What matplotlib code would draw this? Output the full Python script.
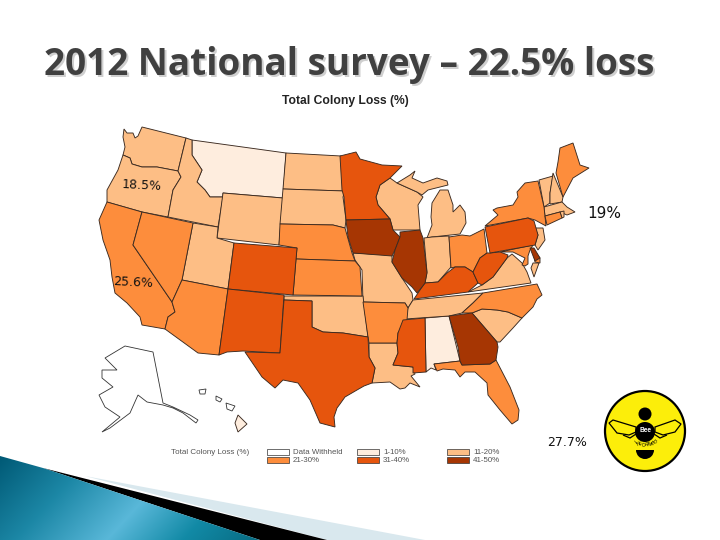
'''
2012 national survey slide: colony loss map of the US
'''
import numpy as np
import matplotlib
matplotlib.use("Agg")
import matplotlib.pyplot as plt
from matplotlib.patches import Polygon, Circle, Rectangle, Wedge
from matplotlib.transforms import Affine2D

# state outlines
WA = [(124,129),(127,133),(133,133),(135,138),(138,136),(142,127),(186,138),(178,171),(157,167),(142,167),(132,164),(130,158),(123,155),(125,147),(123,137)]
OR = [(123,155),(130,158),(132,164),(142,167),(157,167),(178,171),(181,177),(173,190),(168,217),(142,212),(107,202),(107,190),(118,170)]
ID = [(186,138),(192,140),(192,155),(202,170),(197,182),(205,190),(210,197),(223,197),(218,227),(168,217),(173,190),(181,177),(178,171)]
MT = [(192,140),(286,153),(283,198),(223,193),(223,197),(210,197),(205,190),(197,182),(202,170),(192,155)]
WY = [(223,193),(283,198),(279,245),(217,238)]
CA = [(107,202),(142,212),(133,245),(172,302),(175,312),(168,317),(165,329),(142,325),(140,317),(127,303),(115,293),(112,277),(110,260),(103,240),(99,220)]
NV = [(142,212),(193,223),(182,280),(172,302),(133,245)]
UT = [(193,223),(218,227),(217,238),(234,243),(228,289),(182,280)]
AZ = [(182,280),(228,289),(219,355),(198,353),(165,329),(168,317),(175,312),(172,302)]
CO = [(234,243),(297,248),(293,295),(228,289)]
NM = [(228,289),(284,295),(280,353),(243,351),(227,352),(219,355)]
TX = [(284,300),(312,301),(312,327),(323,332),(343,333),(368,337),(369,357),(375,368),(372,383),(364,386),(357,390),(345,397),(340,404),(337,408),(334,417),(335,427),(320,423),(310,400),(298,383),(283,380),(275,388),(262,377),(245,352),(280,353)]
OK = [(284,296),(363,296),(368,337),(343,333),(323,332),(312,327),(312,301),(284,300)]
KS = [(296,259),(355,261),(360,267),(362,296),(293,295)]
NE = [(280,224),(333,225),(345,228),(352,253),(355,261),(296,259),(297,248),(279,245)]
SD = [(283,189),(345,191),(343,197),(346,220),(345,228),(333,225),(280,224)]
ND = [(286,153),(341,156),(345,191),(283,189)]
MN = [(340,156),(356,152),(360,159),(382,165),(402,166),(390,178),(380,185),(376,197),(378,205),(390,219),(346,220),(344,197),(342,190)]
IA = [(346,220),(390,219),(393,230),(400,237),(395,250),(392,256),(353,253),(348,237)]
MO = [(353,253),(392,255),(392,262),(402,278),(412,293),(413,300),(408,308),(405,303),(363,302),(362,270),(355,260)]
AR = [(363,302),(405,303),(408,308),(407,320),(398,333),(397,343),(369,343),(368,337)]
LA = [(369,343),(397,343),(398,353),(393,365),(413,367),(415,374),(411,376),(420,387),(410,383),(405,388),(400,389),(390,382),(372,383),(375,368),(369,357)]
MS = [(403,320),(425,318),(426,372),(413,373),(413,367),(393,365),(398,353),(397,343),(398,333)]
AL = [(425,318),(449,316),(460,361),(434,364),(436,370),(431,368),(426,372)]
GA = [(449,316),(472,313),(497,342),(498,347),(496,360),(490,364),(462,365),(460,361),(458,347)]
FL = [(434,364),(460,361),(462,365),(490,364),(496,360),(510,387),(519,410),(518,420),(512,424),(500,410),(488,395),(487,383),(475,372),(465,372),(460,377),(455,370),(443,369),(437,371)]
SC = [(472,313),(482,309),(497,310),(508,312),(522,318),(513,328),(500,342),(497,342)]
NC = [(483,293),(537,284),(542,295),(537,299),(533,307),(522,318),(508,312),(497,310),(482,309),(472,313),(462,313),(473,303)]
TN = [(413,300),(483,293),(473,303),(462,313),(449,316),(405,319),(408,308)]
KY = [(414,299),(422,287),(425,283),(438,282),(447,273),(455,267),(465,267),(473,272),(478,283),(468,292)]
VA = [(468,292),(482,285),(493,277),(507,258),(512,254),(522,263),(527,272),(531,283)]
WV = [(473,272),(480,258),(487,253),(490,253),(500,252),(508,255),(507,258),(493,277),(482,285),(478,283)]
OH = [(449,237),(462,235),(470,236),(484,229),(487,253),(480,258),(473,272),(465,267),(455,267),(451,268)]
IN = [(424,238),(432,237),(449,236),(451,267),(438,282),(425,283),(427,272)]
IL = [(400,232),(420,230),(423,238),(427,273),(425,283),(422,287),(417,293),(412,287),(402,278),(392,262),(395,250),(400,237)]
WI = [(390,178),(397,183),(417,192),(423,197),(418,205),(420,230),(393,230),(390,219),(378,205),(376,197),(380,185)]
MI_UP = [(397,183),(410,175),(415,171),(412,178),(423,183),(437,178),(447,181),(448,185),(440,187),(428,190),(422,195),(417,192)]
MI_LOW = [(440,190),(432,203),(431,217),(432,225),(427,238),(432,237),(460,234),(466,223),(465,212),(460,205),(453,212),(453,205),(448,190)]
NY = [(493,210),(497,208),(513,205),(518,197),(517,192),(525,183),(538,181),(544,207),(546,226),(535,220),(528,218),(485,226),(498,215)]
PA = [(485,227),(528,218),(534,221),(538,235),(535,245),(490,253)]
NJ = [(535,228),(543,228),(545,240),(538,250),(535,245),(538,235)]
DE = [(530,248),(534,248),(540,258),(535,261)]
MD = [(500,252),(533,245),(530,250),(528,256),(528,264),(525,266),(522,265),(525,258),(513,252)]
MD_EAST = [(533,250),(540,258),(540,263),(535,262)]
VA_EAST = [(533,263),(539,263),(534,277),(531,268)]
CT = [(545,216),(560,212),(562,218),(547,225)]
MA = [(544,207),(562,202),(567,207),(575,212),(567,215),(560,212),(545,216)]
RI = [(560,212),(564,211),(564,217),(562,218)]
VT = [(539,180),(553,176),(550,193),(550,203),(544,207)]
NH = [(553,173),(563,197),(562,202),(550,204),(550,193)]
ME = [(560,148),(573,143),(580,165),(589,168),(573,178),(563,197),(556,173),(558,162)]
AK = [(105,358),(125,346),(153,352),(163,403),(173,407),(190,415),(198,420),(196,423),(183,413),(173,408),(163,405),(147,402),(138,395),(130,413),(110,428),(102,432),(120,417),(105,407),(99,395),(113,387),(102,378),(102,370),(117,370)]
HI = [(238,415),(247,424),(238,432),(235,423)]
HI_SMALL = [[(199,390),(206,389),(205,394),(200,394)],[(216,396),(222,399),(220,402),(216,400)],[(226,403),(235,406),(232,411),(227,409)]]

# loss class of each state
class_1_10 = [MT, AL, HI]
class_11_20 = [WA, OR, ID, WY, UT, ND, SD, WI, MI_UP, MI_LOW, IN, MO, OK, LA, TN, SC, VA, VA_EAST, NJ, VT, NH, MA, RI]
class_21_30 = [CA, NV, AZ, NE, KS, AR, OH, NY, NC, FL, ME, CT, MD, MD_EAST]
class_31_40 = [CO, NM, TX, MN, MS, KY, WV, PA]
class_41_50 = [IA, IL, GA, DE]

legend_labels = ["Data Withheld", "1-10%", "11-20%", "21-30%", "31-40%", "41-50%"]
legend_colors = ["#ffffff", "#feedde", "#fdbe85", "#fd8d3c", "#e6550d", "#a63603"]

title = "2012 National survey – 22.5% loss"
map_title = "Total Colony Loss (%)"
loss_labels = ["18.5%", "25.6%", "19%", "27.7%"]
loss_x = [122, 113, 587, 547]
loss_y = [186, 283, 213, 443]
loss_size = [9, 9, 11, 9]
loss_rot = [-3, -3, 0, 0]

fig = plt.figure(figsize=(7.2, 5.4), dpi=100)
ax = fig.add_axes([0, 0, 1, 1])
ax.set_xlim(0, 720)
ax.set_ylim(540, 0)
ax.axis("off")

# map
edge = "#3b2a20"
groups = [class_1_10, class_11_20, class_21_30, class_31_40, class_41_50]
for color, group in zip(legend_colors[1:], groups):
    for shape in group:
        ax.add_patch(Polygon(shape, closed=True, fc=color, ec=edge, lw=0.65, zorder=2))
ax.add_patch(Polygon(AK, closed=True, fc="white", ec="#333333", lw=0.6, zorder=2))
for shape in HI_SMALL:
    ax.add_patch(Polygon(shape, closed=True, fc="white", ec="#333333", lw=0.6, zorder=2))

# title, sized to the width it has in the picture
t = ax.text(44, 65, title, fontsize=27, family="Open Sans", weight="bold", color="#404040", va="center", ha="left", zorder=4)
fig.canvas.draw()
title_size = 27 * 611 / t.get_window_extent().width
t.set_fontsize(title_size)
ax.text(44, 65, title, fontsize=title_size, family="Open Sans", weight="bold", color="#cfcfcf", va="center", ha="left", zorder=3,
        transform=ax.transData + Affine2D().translate(1.5, -1.5))

ax.text(345, 101, map_title, fontsize=8.7, family="Liberation Sans", weight="bold", color="#222222", ha="center", va="center")
for label, x, y, size, rot in zip(loss_labels, loss_x, loss_y, loss_size, loss_rot):
    ax.text(x, y, label, fontsize=size, rotation=rot, family="DejaVu Sans", color="#111111", va="center", ha="left", zorder=5)

# legend
ax.text(171, 452, "Total Colony Loss (%)", fontsize=5.8, family="Liberation Sans", color="#555555", va="center")
sw_x = [267, 357, 447]
sw_y = [449, 457]
for i in range(6):
    x = sw_x[i % 3]
    y = sw_y[i // 3]
    ax.add_patch(Rectangle((x, y), 22, 6, fc=legend_colors[i], ec="#333333", lw=0.5))
    ax.text(x + 26, y + 3, legend_labels[i], fontsize=5.7, family="Liberation Sans", color="#555555", va="center")

# logo
ax.add_patch(Circle((645, 431), 40, fc="#fcee0a", ec="black", lw=1.6, zorder=2))
ax.add_patch(Circle((645, 414), 6.5, fc="black", zorder=3))
ax.add_patch(Circle((645, 432), 10, fc="black", zorder=3))
ax.add_patch(Wedge((645, 450), 9, 0, 180, fc="black", zorder=3))
left_wing = [(636,427),(613,420),(609,423),(617,433),(629,435),(636,432)]
right_wing = [(655,427),(675,420),(681,424),(675,432),(663,435),(655,432)]
left_low = [(623,435),(630,438),(636,434)]
right_low = [(654,434),(660,438),(667,435)]
for wing in [left_wing, right_wing]:
    ax.add_patch(Polygon(wing, closed=True, fc="none", ec="black", lw=0.9, zorder=3))
for wing in [left_low, right_low]:
    ax.add_patch(Polygon(wing, closed=False, fc="none", ec="black", lw=0.9, zorder=3))
ax.text(645, 431, "Bee", fontsize=4.8, weight="bold", color="white", family="Liberation Sans", ha="center", va="center", zorder=4)
for i, ch in enumerate("INFORMED"):
    a = np.radians(90 + 38 - i * 76 / 7)
    ax.text(645 + 14 * np.cos(a), 431 + 14 * np.sin(a), ch, fontsize=3.6, rotation=np.degrees(a) - 90,
            family="Liberation Sans", ha="center", va="center", zorder=4)

# corner decoration
ax.add_patch(Polygon([(85,476),(425,540),(327,540)], closed=True, fc="#d9e8ee", ec="none", zorder=1))
ax.add_patch(Polygon([(43,468),(327,540),(260,540)], closed=True, fc="black", ec="none", zorder=1.5))
teal = Polygon([(0,456),(43,468),(260,540),(0,540)], closed=True, transform=ax.transData, fc="none", ec="none")
ax.add_patch(teal)
grad_pos = [0.0, 0.3, 0.6, 0.85, 1.1]
grad_col = [(0.0,0.35,0.46), (0.11,0.53,0.65), (0.35,0.72,0.85), (0.07,0.54,0.65), (0.03,0.42,0.51)]
u, v = np.meshgrid(np.linspace(0, 1, 260), np.linspace(0, 1, 84))
g = u * 0.85 + v * 0.25
img = np.stack([np.interp(g, grad_pos, [c[k] for c in grad_col]) for k in range(3)], axis=-1)
im = ax.imshow(img, extent=(0, 260, 540, 456), aspect="auto", zorder=1.6)
im.set_clip_path(teal)
ax.set_xlim(0, 720)
ax.set_ylim(540, 0)

fig.savefig("out.png", dpi=100)
